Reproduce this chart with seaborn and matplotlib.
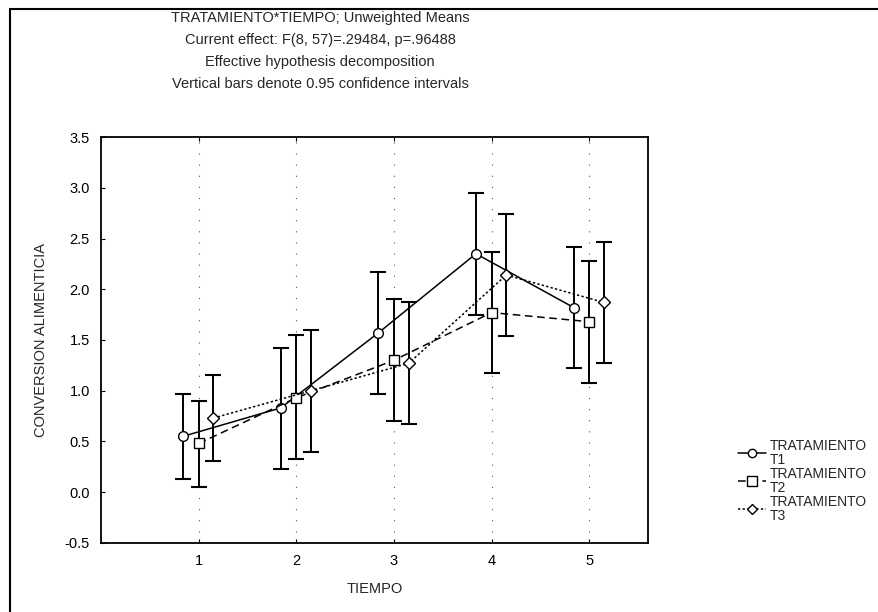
import numpy as np
import pandas as pd
import matplotlib
matplotlib.use("Agg")
import matplotlib.pyplot as plt
from matplotlib.lines import Line2D
import seaborn as sns

# --- datos ---
tiempo = [1, 2, 3, 4, 5]
tratamientos = ["T1", "T2", "T3"]
media_t1 = [0.55, 0.83, 1.57, 2.35, 1.82]
media_t2 = [0.48, 0.93, 1.30, 1.77, 1.68]
media_t3 = [0.73, 1.00, 1.27, 2.14, 1.87]
inf_t1 = [0.13, 0.23, 0.97, 1.75, 1.22]
sup_t1 = [0.97, 1.42, 2.17, 2.95, 2.42]
inf_t2 = [0.05, 0.33, 0.70, 1.17, 1.08]
sup_t2 = [0.90, 1.55, 1.90, 2.37, 2.28]
inf_t3 = [0.31, 0.40, 0.67, 1.54, 1.27]
sup_t3 = [1.15, 1.60, 1.87, 2.74, 2.47]
titulo = ["TRATAMIENTO*TIEMPO; Unweighted Means",
          "Current effect: F(8, 57)=.29484, p=.96488",
          "Effective hypothesis decomposition",
          "Vertical bars denote 0.95 confidence intervals"]

medias = [media_t1, media_t2, media_t3]
inferiores = [inf_t1, inf_t2, inf_t3]
superiores = [sup_t1, sup_t2, sup_t3]

sns.set_style("white")
plt.rcParams['font.family'] = ['Liberation Sans', 'DejaVu Sans']
FS = 10.5

fig = plt.figure(figsize=(8.79, 6.12), dpi=100)
ax = fig.add_axes([0.115, 0.113, 0.622, 0.663])

desplaz = [-0.16, 0.0, 0.15]
marcas = ["o", "s", "D"]
tamanos = [7, 7.5, 6]
estilos = ["-", (0, (5, 3)), (0, (1.5, 1.5))]

handles = []
for i, trat in enumerate(tratamientos):
    df = pd.DataFrame({"x": np.array(tiempo) + desplaz[i], "y": medias[i]})
    sns.lineplot(data=df, x="x", y="y", ax=ax, color="black", linewidth=1.1,
                 linestyle=estilos[i], marker=marcas[i], markersize=tamanos[i],
                 markerfacecolor="white", markeredgecolor="black",
                 markeredgewidth=1.0, zorder=3)
    y = np.array(medias[i])
    err = [y - np.array(inferiores[i]), np.array(superiores[i]) - y]
    ax.errorbar(df["x"], y, yerr=err, fmt="none", ecolor="black",
                elinewidth=1.4, capsize=5.5, capthick=1.5, zorder=2)
    handles.append(Line2D([], [], color="black", linewidth=1.1,
                          linestyle=estilos[i], marker=marcas[i],
                          markersize=tamanos[i] - 1, markerfacecolor="white",
                          markeredgecolor="black"))

ax.set_xlim(0.0, 5.6)
ax.set_ylim(-0.5, 3.5)
ax.set_xticks(tiempo)
ax.set_yticks(np.arange(-0.5, 3.51, 0.5))
ax.set_yticklabels([f"{v:.1f}" for v in np.arange(-0.5, 3.51, 0.5)])
for xt in tiempo:
    ax.axvline(xt, color="#555555", linewidth=0.8, linestyle=(0, (1, 9)), zorder=1)

for s in ax.spines.values():
    s.set_visible(True)
    s.set_color("black")
    s.set_linewidth(1.3)
ax.tick_params(axis="both", direction="in", length=3, labelsize=FS,
               colors="black", top=True, right=False, bottom=True, left=True)
ax.tick_params(axis="both", pad=8)

ax.set_xlabel("TIEMPO", fontsize=FS, labelpad=10)
ax.set_ylabel("CONVERSION ALIMENTICIA", fontsize=FS, labelpad=12)

cx = 320 / 879
for k, linea in enumerate(titulo):
    fig.text(cx, 1 - (18 + 22 * k) / 612, linea, ha="center", va="center",
             fontsize=FS)

etiquetas = [f"TRATAMIENTO\n{t}" for t in tratamientos]
leg = fig.legend(handles, etiquetas, loc="upper left",
                 bbox_to_anchor=(735 / 879, 1 - 436 / 612), frameon=False,
                 fontsize=10, handlelength=2.0, handletextpad=0.3,
                 labelspacing=0.0, borderaxespad=0, borderpad=0.2)
for t in leg.get_texts():
    t.set_linespacing(1.0)

# marco de la figura (arriba e izquierda)
fig.add_artist(Line2D([10 / 879, 1], [1 - 9 / 612, 1 - 9 / 612],
                      transform=fig.transFigure, color="black", linewidth=1.5))
fig.add_artist(Line2D([10 / 879, 10 / 879], [0, 1 - 9 / 612],
                      transform=fig.transFigure, color="black", linewidth=1.5))

fig.savefig("out.png", dpi=100)
